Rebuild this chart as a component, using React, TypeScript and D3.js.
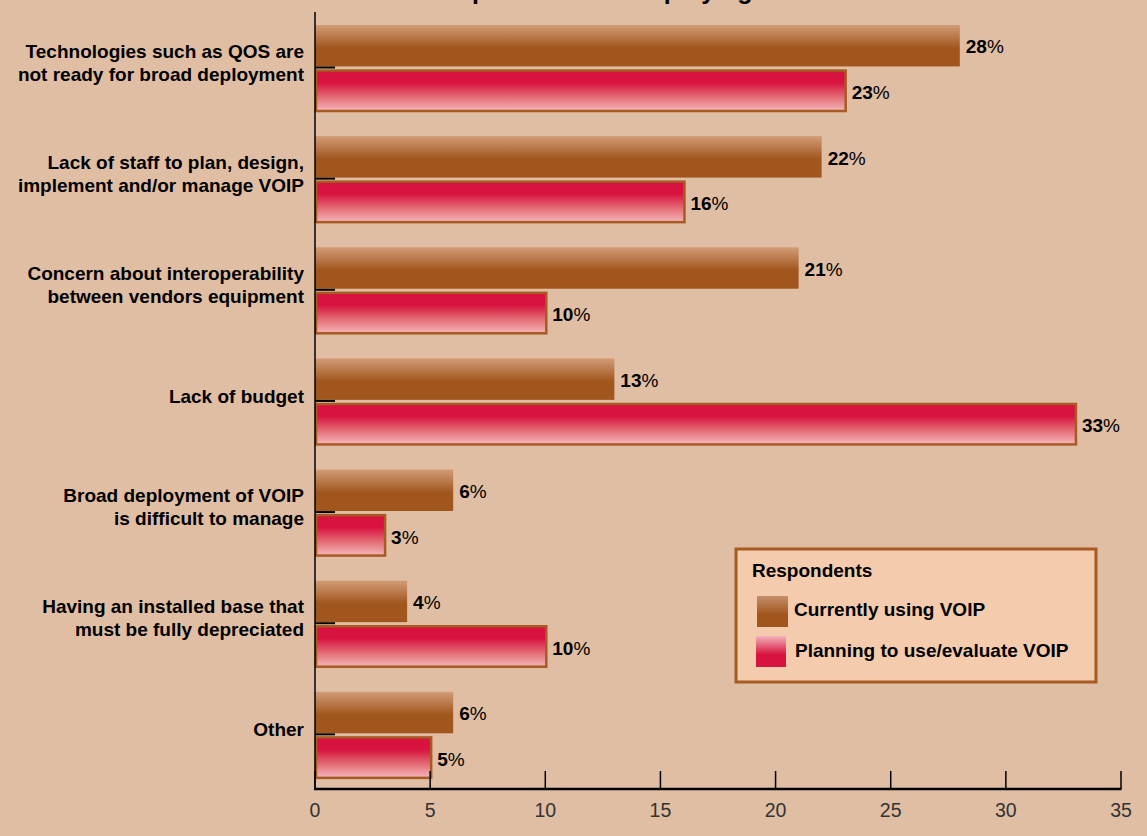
import React, { useEffect } from "react";
import * as d3 from "d3";

const categories: string[][] = [
  ["Technologies such as QOS are", "not ready for broad deployment"],
  ["Lack of staff to plan, design,", "implement and/or manage VOIP"],
  ["Concern about interoperability", "between vendors equipment"],
  ["Lack of budget"],
  ["Broad deployment of VOIP", "is difficult to manage"],
  ["Having an installed base that", "must be fully depreciated"],
  ["Other"],
];
const currentlyUsing = [28, 22, 21, 13, 6, 4, 6];
const planning = [23, 16, 10, 33, 3, 10, 5];
const xTicks = [0, 5, 10, 15, 20, 25, 30, 35];
const seriesKeys = ["current", "planning"];
const legendLabels = ["Currently using VOIP", "Planning to use/evaluate VOIP"];
const legendTitle = "Respondents";
const title = "Main impediments to deploying VOIP";

const W = 1147;
const H = 836;
const BG = "#e0bea3";
const BOLD = "'Liberation Sans', Arial, sans-serif";

export default function App() {
  useEffect(() => {
    document.body.style.margin = "0";
  }, []);

  const x = d3.scaleLinear().domain([0, 35]).range([315, 1121]);
  const y = d3
    .scaleBand<number>()
    .domain(d3.range(categories.length))
    .range([12, 790])
    .padding(0);
  const sub = d3.scaleBand<string>().domain(seriesKeys).range([13, 99]).paddingInner(0.07);

  const axisY = 789;

  const valueLabel = (v: number, xx: number, yy: number, key: string) => (
    <text key={key} x={xx} y={yy} dy="0.35em" fontFamily={BOLD} fontSize={19} fill="#000">
      <tspan fontWeight="bold">{v}</tspan>
      <tspan fontWeight="normal">%</tspan>
    </text>
  );

  return (
    <svg width={W} height={H} style={{ display: "block" }}>
      <defs>
        <linearGradient id="gBrown" x1="0" y1="0" x2="0" y2="1">
          <stop offset="0" stopColor="#d29c77" />
          <stop offset="0.55" stopColor="#a1561e" />
          <stop offset="1" stopColor="#a1561e" />
        </linearGradient>
        <linearGradient id="gRed" x1="0" y1="0" x2="0" y2="1">
          <stop offset="0" stopColor="#d8123f" />
          <stop offset="0.3" stopColor="#d8133f" />
          <stop offset="0.65" stopColor="#e46a74" />
          <stop offset="1" stopColor="#f5b8bb" />
        </linearGradient>
        <linearGradient id="gBrownL" x1="0" y1="0" x2="0" y2="1">
          <stop offset="0" stopColor="#c58e6a" />
          <stop offset="0.6" stopColor="#a1561e" />
          <stop offset="1" stopColor="#a1561e" />
        </linearGradient>
        <linearGradient id="gRedL" x1="0" y1="0" x2="0" y2="1">
          <stop offset="0" stopColor="#f2b3ba" />
          <stop offset="0.6" stopColor="#d8133f" />
          <stop offset="1" stopColor="#d8133f" />
        </linearGradient>
      </defs>
      <rect x={0} y={0} width={W} height={H} fill={BG} />

      <text
        x={379}
        y={-1}
        fontFamily={BOLD}
        fontWeight="bold"
        fontSize={25}
        fill="#000"
      >
        {title}
      </text>

      {/* category labels */}
      {categories.map((lines, i) => {
        const cy = (y(i) as number) + y.bandwidth() / 2 - 5;
        const lh = 23;
        const start = cy - ((lines.length - 1) * lh) / 2;
        return (
          <text
            key={"c" + i}
            textAnchor="end"
            fontFamily={BOLD}
            fontWeight="bold"
            fontSize={19}
            fill="#000"
          >
            {lines.map((l, j) => (
              <tspan key={j} x={304} y={start + j * lh} dy="0.35em">
                {l}
              </tspan>
            ))}
          </text>
        );
      })}

      {/* bars */}
      {categories.map((_, i) => {
        const b0 = y(i) as number;
        const yc = b0 + (sub("current") as number);
        const yp = b0 + (sub("planning") as number);
        const h = sub.bandwidth();
        return (
          <g key={"b" + i}>
            <rect
              x={x(0)}
              y={yc}
              width={x(currentlyUsing[i]) - x(0)}
              height={h}
              fill="url(#gBrown)"
            />
            <rect
              x={x(0) + 1}
              y={yp + 1}
              width={x(planning[i]) - x(0)}
              height={h - 1}
              fill="url(#gRed)"
              stroke="#a65b22"
              strokeWidth={2.5}
            />
            {valueLabel(currentlyUsing[i], x(currentlyUsing[i]) + 6, yc + h / 2 + 1, "vc")}
            {valueLabel(planning[i], x(planning[i]) + 7, yp + h / 2 + 2, "vp")}
          </g>
        );
      })}

      {/* y axis */}
      <line x1={315} x2={315} y1={12} y2={axisY} stroke="#000" strokeWidth={1.5} />
      {categories.map((_, i) => {
        const ty = (y(i) as number) + 55.5;
        return <line key={"t" + i} x1={315} x2={335} y1={ty} y2={ty} stroke="#000" strokeWidth={2} />;
      })}

      {/* x axis */}
      <line x1={314} x2={x(35) + 0.5} y1={axisY} y2={axisY} stroke="#000" strokeWidth={2.5} />
      {xTicks.map((t) => (
        <g key={"x" + t}>
          <line x1={x(t)} x2={x(t)} y1={axisY} y2={771} stroke="#000" strokeWidth={1.5} />
          <text
            x={x(t)}
            y={817}
            textAnchor="middle"
            fontFamily="'Liberation Sans', Arial, sans-serif"
            fontSize={19.5}
            fill="#333"
          >
            {t}
          </text>
        </g>
      ))}

      {/* legend */}
      <g>
        <rect x={736} y={549} width={360} height={133} fill="#f4cbac" stroke="#a65b22" strokeWidth={3} />
        <text x={752} y={577} fontFamily={BOLD} fontWeight="bold" fontSize={19} fill="#000">
          {legendTitle}
        </text>
        <rect x={757} y={596} width={31} height={31} fill="url(#gBrownL)" />
        <rect x={756} y={636} width={30} height={31} fill="url(#gRedL)" />
        <text x={794} y={616} fontFamily={BOLD} fontWeight="bold" fontSize={19} fill="#000">
          {legendLabels[0]}
        </text>
        <text x={795} y={657} fontFamily={BOLD} fontWeight="bold" fontSize={19} fill="#000">
          {legendLabels[1]}
        </text>
      </g>
    </svg>
  );
}
